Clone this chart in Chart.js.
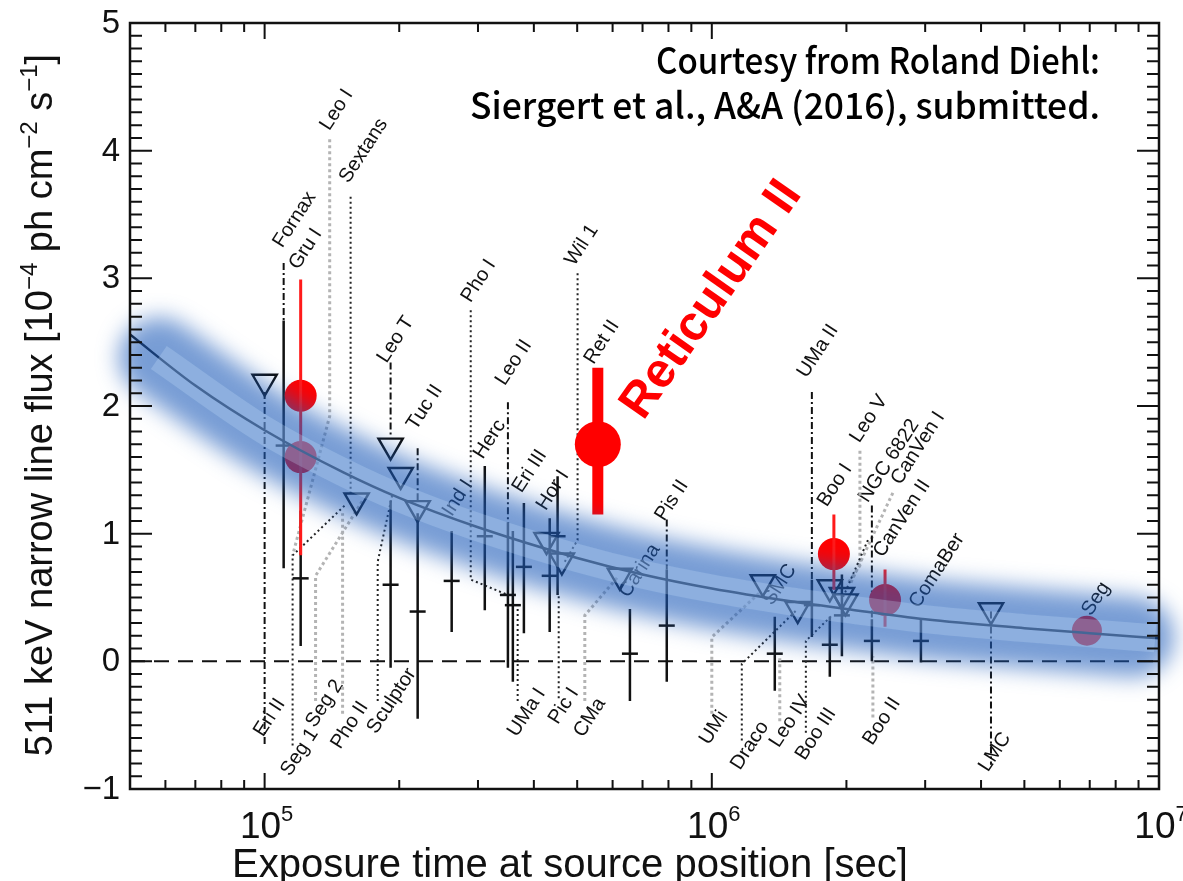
<!DOCTYPE html>
<html>
<head>
<meta charset="utf-8">
<title>511 keV line flux vs exposure</title>
<script src="https://cdn.jsdelivr.net/npm/chart.js@4.4.0/dist/chart.umd.min.js"></script>
<style>
  html, body { margin: 0; padding: 0; background: #fff; }
</style>
</head>
<body>
<canvas id="fluxChart" width="1183" height="881"></canvas>
<script>
const FONT = '"Liberation Sans", Arial, sans-serif';

// axis ranges and tick labels
const xRange = [5e4, 1e7];
const yRange = [-1, 5];
const yTickValues = [-1, 0, 1, 2, 3, 4, 5];
const xTickExponents = [5, 6, 7];

// fitted sensitivity curve
const curveTime = [5e4, 7e4, 1e5, 1.5e5, 2e5, 3e5, 5e5, 7e5, 1e6, 1.5e6, 2e6, 3e6, 5e6, 7e6, 1e7];
const curveFlux = [2.56, 2.16, 1.81, 1.48, 1.28, 1.05, 0.81, 0.68, 0.57, 0.47, 0.41, 0.33, 0.26, 0.22, 0.18];

// blurred uncertainty band and its lighter core
const bandTime = [5.8e4, 1e5, 1.5e5, 2e5, 3e5, 5e5, 7e5, 1e6, 1.5e6, 2e6, 3e6, 5e6, 8.8e6];
const bandFlux = [2.38, 1.81, 1.48, 1.28, 1.05, 0.81, 0.68, 0.57, 0.47, 0.41, 0.33, 0.26, 0.19];
const coreTime = [5.8e4, 1e5, 1.5e5, 2e5, 3e5, 5e5, 7e5, 1e6, 1.5e6, 2e6, 3e6, 5e6, 9.8e6];
const coreFlux = [2.38, 1.81, 1.48, 1.28, 1.05, 0.81, 0.68, 0.57, 0.47, 0.41, 0.33, 0.26, 0.18];

// measured fluxes with 1-sigma ranges
const barTime = [1.103e5, 1.204e5, 1.913e5, 2.199e5, 2.62e5, 3.107e5, 3.50e5, 3.59e5, 3.80e5, 4.34e5, 4.52e5, 6.56e5, 7.93e5, 1.383e6, 1.674e6, 1.836e6, 1.954e6, 2.28e6, 2.935e6];
const barValue = [1.69, 0.65, 0.60, 0.39, 0.63, 0.98, 0.52, 0.44, 0.74, 0.67, 0.98, 0.06, 0.28, 0.06, 0.44, 0.13, 0.36, 0.16, 0.16];
const barLow = [0.73, 0.12, -0.05, -0.45, 0.23, 0.40, -0.05, -0.16, 0.22, 0.23, 0.52, -0.31, -0.16, -0.23, 0.19, -0.12, 0.04, 0.00, -0.01];
const barHigh = [2.67, 1.18, 1.26, 1.16, 1.02, 1.53, 1.09, 1.02, 1.24, 1.12, 1.45, 0.41, 0.72, 0.35, 0.64, 0.35, 0.68, 0.33, 0.33];

// 2-sigma upper limits
const limitTime = [1.0e5, 1.606e5, 1.913e5, 2.015e5, 2.199e5, 4.27e5, 4.62e5, 6.23e5, 1.30e6, 1.556e6, 1.836e6, 1.954e6, 1.99e6, 4.21e6];
const limitFlux = [2.19, 1.26, 1.69, 1.46, 1.20, 0.95, 0.79, 0.67, 0.62, 0.41, 0.58, 0.52, 0.47, 0.40];

// highlighted sources (Gru I twice, Ret II, Boo I, CVn II, Seg)
const hiTime = [1.204e5, 1.204e5, 5.56e5, 1.875e6, 2.44e6, 6.90e6];
const hiFlux = [2.08, 1.60, 1.70, 0.84, 0.48, 0.24];
const hiSize = [16, 16, 23, 16, 16, 15];
const hiBarTime = [1.204e5, 1.875e6, 2.44e6];
const hiBarLow = [0.83, 0.56, 0.27];
const hiBarHigh = [2.99, 1.15, 0.72];
const retTime = [5.56e5];
const retLow = [1.15];
const retHigh = [2.30];

// leader lines from source names to their points
const dashDotLeaders = [
  [[1.103e5, 3.12], [1.103e5, 2.67]],
  [[1.913e5, 2.34], [1.913e5, 1.76]],
  [[2.199e5, 1.67], [2.199e5, 1.24]],
  [[3.50e5, 2.03], [3.50e5, 1.09]],
  [[7.93e5, 1.11], [7.93e5, 0.72]],
  [[1.674e6, 2.11], [1.674e6, 0.64]],
  [[2.28e6, 1.22], [2.28e6, 0.33]],
  [[1.0e5, 2.11], [1.0e5, -0.66]],
  [[4.21e6, 0.39], [4.21e6, -0.81]]
];
const dottedLeaders = [
  [[1.557e5, 3.64], [1.557e5, 1.32]],
  [[2.89e5, 2.75], [2.89e5, 0.64], [3.50e5, 0.52]],
  [[5.01e5, 3.04], [5.01e5, 0.95], [4.69e5, 0.78]],
  [[1.155e5, -0.66], [1.155e5, 0.83], [1.510e5, 1.22]],
  [[1.79e5, -0.31], [1.79e5, 0.78], [1.934e5, 1.32]],
  [[3.68e5, -0.31], [3.68e5, 0.45]],
  [[4.546e5, -0.29], [4.546e5, 0.52]],
  [[1.167e6, -0.62], [1.167e6, -0.02], [1.556e6, 0.41]],
  [[1.623e6, -0.56], [1.623e6, 0.16], [1.856e6, 0.36]],
  [[2.234e6, 0.95], [1.964e6, 0.50]]
];
const grayLeaders = [
  [[1.398e5, 4.09], [1.398e5, 1.92], [1.155e5, 0.83]],
  [[1.30e5, -0.31], [1.30e5, 0.67], [1.657e5, 1.26]],
  [[1.494e5, -0.41], [1.494e5, 1.16]],
  [[5.20e5, -0.31], [5.20e5, 0.36], [6.16e5, 0.66]],
  [[1.0e6, -0.41], [1.0e6, 0.19], [1.281e6, 0.54]],
  [[1.419e6, -0.47], [1.419e6, 0.04]],
  [[2.292e6, -0.44], [2.292e6, 0.04]],
  [[2.144e6, 1.65], [2.144e6, 0.75], [2.005e6, 0.60]],
  [[2.54e6, 1.32], [2.036e6, 0.60]]
];

// source names and where they sit
const sourceNames = ['Fornax', 'Gru I', 'Leo I', 'Sextans', 'Leo T', 'Tuc II', 'Pho I', 'Herc', 'Leo II', 'Eri III',
  'Hor I', 'Wil 1', 'Ret II', 'Pis II', 'Carina', 'Ind I', 'SMC', 'UMa II', 'Boo I', 'Leo V', 'NGC 6822',
  'CanVen I', 'CanVen II', 'ComaBer', 'Seg',
  'Eri II', 'Seg 1', 'Seg 2', 'Pho II', 'Sculptor', 'UMa I', 'Pic I', 'CMa', 'UMi', 'Draco', 'Leo IV',
  'Boo III', 'Boo II', 'LMC'];
const sourceTime = [1.167e5, 1.235e5, 1.449e5, 1.665e5, 1.964e5, 2.28e5, 3.011e5, 3.187e5, 3.606e5, 3.915e5,
  4.41e5, 5.12e5, 5.675e5, 8.14e5, 6.90e5, 2.703e5, 1.419e6, 1.727e6, 1.885e6, 2.245e6, 2.489e6,
  2.89e6, 2.662e6, 3.187e6, 7.23e6,
  1.026e5, 1.198e5, 1.362e5, 1.55e5, 1.924e5, 3.855e5, 4.667e5, 5.335e5, 1.01e6, 1.216e6, 1.495e6,
  1.709e6, 2.401e6, 4.297e6];
const sourceFlux = [3.46, 3.23, 4.32, 4.00, 2.52, 1.99, 2.98, 1.74, 2.34, 1.49,
  1.34, 3.26, 2.50, 1.26, 0.71, 1.28, 0.60, 2.43, 1.38, 1.90, 1.57,
  1.67, 1.12, 0.71, 0.49,
  -0.44, -0.71, -0.33, -0.50, -0.31, -0.40, -0.35, -0.44, -0.52, -0.66, -0.47,
  -0.57, -0.47, -0.71];

function points(xs, ys) {
  return xs.map((x, i) => ({ x: x, y: ys[i] }));
}

// several polylines in one dataset, split by gaps
function polylines(lines) {
  const pts = [];
  lines.forEach(line => {
    line.forEach(p => pts.push({ x: p[0], y: p[1] }));
    pts.push({ x: line[line.length - 1][0], y: null });
  });
  return pts;
}

function verticalBars(xs, lo, hi) {
  return polylines(xs.map((x, i) => [[x, lo[i]], [x, hi[i]]]));
}

const lineDefaults = { showLine: true, pointRadius: 0, spanGaps: false };

// blurs the datasets that ask for it
const blurPlugin = {
  id: 'blurPlugin',
  beforeDatasetDraw(chart, args) {
    const ds = chart.data.datasets[args.index];
    if (ds.blur) {
      chart.ctx.save();
      chart.ctx.filter = 'blur(' + ds.blur + 'px)';
    }
  },
  afterDatasetDraw(chart, args) {
    if (chart.data.datasets[args.index].blur) chart.ctx.restore();
  }
};

// rotated source names, under the band
const namePlugin = {
  id: 'namePlugin',
  beforeDatasetsDraw(chart) {
    const { ctx, scales: { x, y } } = chart;
    ctx.save();
    ctx.font = '20px ' + FONT;
    ctx.fillStyle = '#111';
    ctx.textAlign = 'center';
    ctx.textBaseline = 'middle';
    sourceNames.forEach((name, i) => {
      ctx.save();
      ctx.translate(x.getPixelForValue(sourceTime[i]), y.getPixelForValue(sourceFlux[i]));
      ctx.rotate(-57 * Math.PI / 180);
      ctx.fillText(name, 0, 0);
      ctx.restore();
    });
    ctx.restore();
  }
};

function richWidth(ctx, parts) {
  let w = 0;
  parts.forEach(p => { ctx.font = p[1] + 'px ' + FONT; w += ctx.measureText(p[0]).width; });
  return w;
}

function drawRich(ctx, parts, cx, baseline) {
  let pos = cx - richWidth(ctx, parts) / 2;
  ctx.textAlign = 'left';
  ctx.textBaseline = 'alphabetic';
  parts.forEach(p => {
    ctx.font = p[1] + 'px ' + FONT;
    ctx.fillText(p[0], pos, baseline - p[2]);
    pos += ctx.measureText(p[0]).width;
  });
}

// box, inward ticks, tick labels, titles and notes
const framePlugin = {
  id: 'framePlugin',
  afterDraw(chart) {
    const { ctx, chartArea: a, scales: { x, y } } = chart;
    ctx.save();
    ctx.strokeStyle = '#111';
    ctx.fillStyle = '#111';
    ctx.lineWidth = 2;
    ctx.beginPath();
    for (let d = 4; d <= 7; d++) {
      for (let m = 1; m <= 9; m++) {
        const v = m * Math.pow(10, d);
        if (v < xRange[0] || v > xRange[1]) continue;
        const px = x.getPixelForValue(v);
        const len = m === 1 ? 16 : 9;
        ctx.moveTo(px, a.bottom); ctx.lineTo(px, a.bottom - len);
        ctx.moveTo(px, a.top); ctx.lineTo(px, a.top + len);
      }
    }
    for (let i = 0; i <= 60; i++) {
      const py = y.getPixelForValue(yRange[0] + i / 10);
      const len = i % 10 === 0 ? 22 : 12;
      ctx.moveTo(a.left, py); ctx.lineTo(a.left + len, py);
      ctx.moveTo(a.right, py); ctx.lineTo(a.right - len, py);
    }
    ctx.stroke();
    ctx.lineWidth = 2.5;
    ctx.strokeRect(a.left, a.top, a.right - a.left, a.bottom - a.top);

    // y tick labels
    ctx.font = '33px ' + FONT;
    ctx.textAlign = 'right';
    ctx.textBaseline = 'middle';
    yTickValues.forEach(v => {
      ctx.fillText(v < 0 ? '\u2212' + Math.abs(v) : String(v), a.left - 10, y.getPixelForValue(v) + 1);
    });

    // x tick labels as powers of ten
    xTickExponents.forEach(e => {
      drawRich(ctx, [['10', 37, 0], [String(e), 22, 17]], x.getPixelForValue(Math.pow(10, e)) + 2, 838);
    });

    // axis titles
    drawRich(ctx, [['Exposure time at source position [sec]', 40, 0]], 570, 877);
    ctx.save();
    ctx.translate(52, 405);
    ctx.rotate(-Math.PI / 2);
    drawRich(ctx, [
      ['511 keV narrow line flux [10', 38, 0], ['\u22124', 24, 15], [' ph cm', 38, 0],
      ['\u22122', 24, 15], [' s', 38, 0], ['\u22121', 24, 15], [']', 38, 0]
    ], 0, 0);
    ctx.restore();

    // credit note
    ctx.font = '500 36px "Noto Sans CJK JP", ' + FONT;
    ctx.textAlign = 'right';
    ctx.textBaseline = 'alphabetic';
    ctx.fillStyle = '#000';
    ctx.fillText('Courtesy from Roland Diehl:', 1100, 74, 444);
    ctx.fillText('Siergert et al., A&A (2016), submitted.', 1100, 119, 630);

    // highlighted source name
    ctx.save();
    ctx.translate(x.getPixelForValue(1.0e6), y.getPixelForValue(2.83));
    ctx.rotate(-55 * Math.PI / 180);
    ctx.font = 'bold 49px ' + FONT;
    ctx.fillStyle = '#ff0000';
    ctx.textAlign = 'center';
    ctx.textBaseline = 'middle';
    ctx.fillText('Reticulum II', 0, 0);
    ctx.restore();
    ctx.restore();
  }
};

new Chart(document.getElementById('fluxChart'), {
  type: 'scatter',
  data: {
    datasets: [
      { label: 'band core', data: points(coreTime, coreFlux), ...lineDefaults,
        borderColor: 'rgba(205,228,252,0.25)', borderWidth: 28, borderCapStyle: 'butt',
        cubicInterpolationMode: 'monotone', clip: false, order: 0 },
      { label: 'band', data: points(bandTime, bandFlux), ...lineDefaults,
        borderColor: 'rgba(30,92,185,0.6)', borderWidth: 80, borderCapStyle: 'round',
        borderJoinStyle: 'round', cubicInterpolationMode: 'monotone', clip: false, blur: 11, order: 1 },
      { label: 'fit', data: points(curveTime, curveFlux), ...lineDefaults,
        borderColor: '#0d0d0d', borderWidth: 2.5, cubicInterpolationMode: 'monotone', order: 2 },
      { label: 'Ret II range', data: verticalBars(retTime, retLow, retHigh), ...lineDefaults,
        borderColor: '#ff0000', borderWidth: 11, order: 3 },
      { label: 'highlight ranges', data: verticalBars(hiBarTime, hiBarLow, hiBarHigh), ...lineDefaults,
        borderColor: '#ff1a1a', borderWidth: 3, order: 3 },
      { label: 'highlights', data: points(hiTime, hiFlux), pointRadius: hiSize,
        backgroundColor: '#ff0000', borderWidth: 0, order: 3 },
      { label: 'measured ranges', data: verticalBars(barTime, barLow, barHigh), ...lineDefaults,
        borderColor: '#111', borderWidth: 2.5, order: 4 },
      { label: 'measured', data: points(barTime, barValue), pointStyle: 'line', pointRadius: 8,
        borderColor: '#111', borderWidth: 2.5, order: 4 },
      { label: 'upper limits', data: points(limitTime, limitFlux), pointStyle: 'triangle', rotation: 180,
        pointRadius: 14, backgroundColor: 'rgba(0,0,0,0)', borderColor: '#0d0d0d', borderWidth: 2.4, order: 4 },
      { label: 'leaders dash-dot', data: polylines(dashDotLeaders), ...lineDefaults,
        borderColor: '#111', borderWidth: 2, borderDash: [7, 3, 2, 3], order: 5 },
      { label: 'leaders dotted', data: polylines(dottedLeaders), ...lineDefaults,
        borderColor: '#222', borderWidth: 2, borderDash: [2, 3], order: 5 },
      { label: 'leaders gray', data: polylines(grayLeaders), ...lineDefaults,
        borderColor: '#b4b4b4', borderWidth: 3, borderDash: [3, 3], order: 5 },
      { label: 'zero', data: points(xRange, [0, 0]), ...lineDefaults,
        borderColor: '#111', borderWidth: 2, borderDash: [15, 9], order: 5 }
    ]
  },
  options: {
    responsive: false,
    animation: false,
    events: [],
    devicePixelRatio: 1,
    layout: { padding: { left: 130, right: 24, top: 15, bottom: 92 } },
    scales: {
      x: { type: 'logarithmic', min: xRange[0], max: xRange[1], display: false },
      y: { type: 'linear', min: yRange[0], max: yRange[1], display: false }
    },
    plugins: { legend: { display: false }, tooltip: { enabled: false } }
  },
  plugins: [blurPlugin, namePlugin, framePlugin]
});
</script>
</body>
</html>
